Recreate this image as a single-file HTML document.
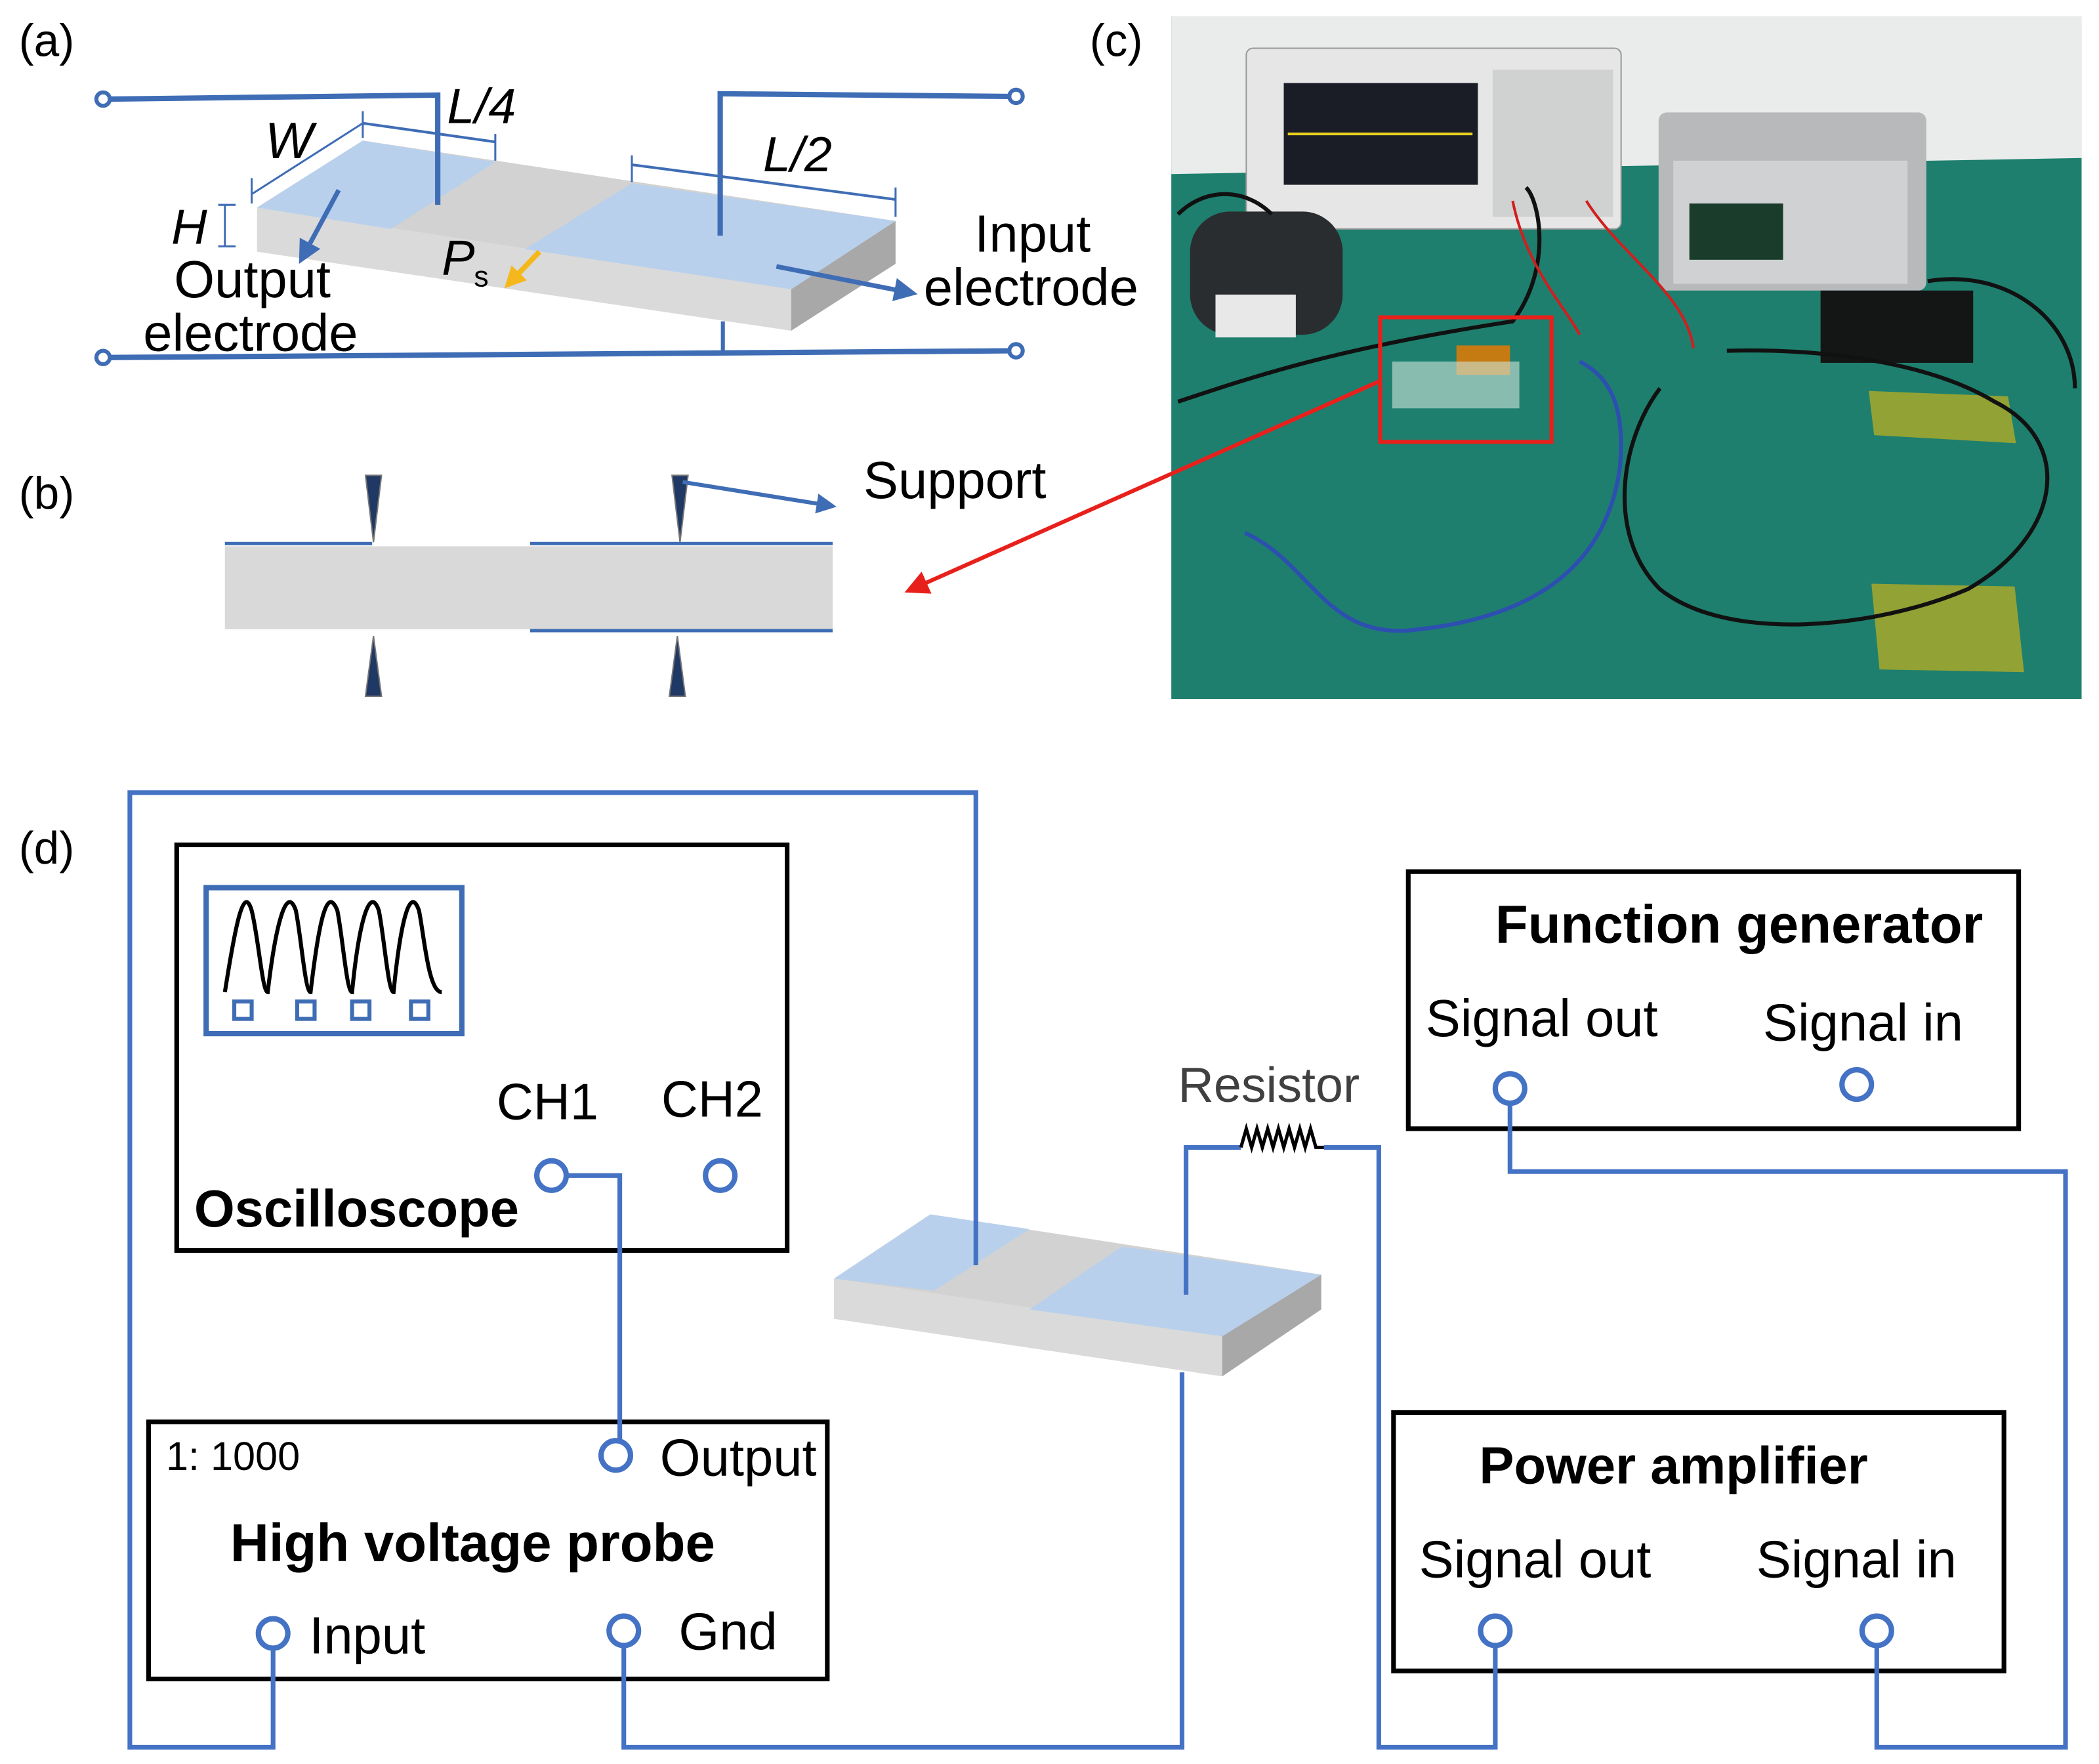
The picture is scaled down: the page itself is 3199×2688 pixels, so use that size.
<!DOCTYPE html>
<html><head><meta charset="utf-8"><style>
html,body{margin:0;padding:0;background:#fff}
svg{display:block}
text{font-family:"Liberation Sans",Arial,sans-serif}
</style></head><body>
<svg width="3199" height="2688" viewBox="0 0 1568 1317.5" xmlns="http://www.w3.org/2000/svg">
<defs>
<marker id="ab" viewBox="0 0 10 10" refX="8" refY="5" markerWidth="5" markerHeight="5" orient="auto"><path d="M0,0 L10,5 L0,10 z" fill="#3f6db5"/></marker>
<marker id="ar" viewBox="0 0 10 10" refX="8" refY="5" markerWidth="6" markerHeight="6" orient="auto"><path d="M0,0 L10,5 L0,10 z" fill="#e8201c"/></marker>
<marker id="ao" viewBox="0 0 10 10" refX="8" refY="5" markerWidth="4" markerHeight="4" orient="auto"><path d="M0,0 L10,5 L0,10 z" fill="#f5b81c"/></marker>
</defs>

<!-- (a) -->
<text x="14" y="42" font-size="34">(a)</text>
<polygon points="192,155 591,216 591,247 192,188" fill="#dadada"/>
<polygon points="591,216 669,165 669,197 591,247" fill="#a8a8a8"/>
<polygon points="192,155 271,105 669,165 591,216" fill="#d2d2d2"/>
<polygon points="192,155 271,105 370,121 292,171" fill="#b8d0ec"/>
<polygon points="392,186 472,137 669,165 591,216" fill="#b8d0ec"/>
<g stroke="#3f6db5" fill="none">
<polyline points="82,74 327,71 327,153" stroke-width="4"/>
<circle cx="77" cy="74" r="5" stroke-width="3" fill="#fff"/>
<polyline points="538,176 538,70 754,72" stroke-width="4"/>
<circle cx="759" cy="72" r="5" stroke-width="3" fill="#fff"/>
<line x1="82" y1="267" x2="754" y2="262" stroke-width="4"/>
<circle cx="77" cy="267" r="5" stroke-width="3" fill="#fff"/>
<circle cx="759" cy="262" r="5" stroke-width="3" fill="#fff"/>
<line x1="540" y1="240" x2="540" y2="263" stroke-width="3"/>
<line x1="188" y1="145" x2="271" y2="92" stroke-width="1.5"/>
<line x1="188" y1="133" x2="188" y2="152" stroke-width="1.5"/>
<line x1="271" y1="83" x2="271" y2="103" stroke-width="1.5"/>
<line x1="271" y1="92" x2="370" y2="106" stroke-width="2"/>
<line x1="370" y1="100" x2="370" y2="120" stroke-width="1.5"/>
<line x1="472" y1="123" x2="669" y2="149" stroke-width="2"/>
<line x1="472" y1="116" x2="472" y2="136" stroke-width="1.5"/>
<line x1="669" y1="140" x2="669" y2="162" stroke-width="1.5"/>
<line x1="168" y1="153" x2="168" y2="184" stroke-width="1.5"/>
<line x1="163" y1="153" x2="176" y2="153" stroke-width="1.5"/>
<line x1="163" y1="184" x2="176" y2="184" stroke-width="1.5"/>
<line x1="253" y1="142" x2="225" y2="194" stroke-width="3.5" marker-end="url(#ab)"/>
<line x1="580" y1="199" x2="682" y2="219" stroke-width="3.5" marker-end="url(#ab)"/>
</g>
<line x1="403" y1="188" x2="379" y2="213" stroke="#f5b81c" stroke-width="4" marker-end="url(#ao)"/>
<text x="198" y="118" font-size="38" font-style="italic">W</text>
<text x="334" y="92" font-size="37" font-style="italic">L/4</text>
<text x="570" y="128" font-size="37" font-style="italic">L/2</text>
<text x="128" y="182" font-size="37" font-style="italic">H</text>
<text x="330" y="205" font-size="37" font-style="italic">P</text>
<text x="354" y="214" font-size="22">s</text>
<text x="130" y="222" font-size="39">Output</text>
<text x="107" y="262" font-size="39">electrode</text>
<text x="728" y="188" font-size="39">Input</text>
<text x="690" y="228" font-size="39">electrode</text>

<!-- (b) -->
<text x="14" y="380" font-size="34">(b)</text>
<rect x="168" y="408" width="454" height="62" fill="#d9d9d9"/>
<g stroke="#3f6db5" stroke-width="2.5">
<line x1="168" y1="406" x2="278" y2="406"/>
<line x1="396" y1="406" x2="622" y2="406"/>
<line x1="396" y1="471" x2="622" y2="471"/>
</g>
<g fill="#1f3864" stroke="#777" stroke-width="1">
<polygon points="273,355 285,355 279,405"/>
<polygon points="279,475 273,520 285,520"/>
<polygon points="502,355 514,355 508,405"/>
<polygon points="506,475 500,520 512,520"/>
</g>
<line x1="510" y1="360" x2="622" y2="378" stroke="#3f6db5" stroke-width="3" marker-end="url(#ab)"/>
<text x="645" y="372" font-size="39">Support</text>

<!-- (c) photo -->
<text x="814" y="42" font-size="34">(c)</text>
<rect x="875" y="12" width="680" height="510" fill="#1e7f6e"/>
<polygon points="875,12 1555,12 1555,118 875,130" fill="#e9eceb"/>
<rect x="931" y="36" width="280" height="135" rx="5" fill="#e6e6e6" stroke="#999"/>
<rect x="959" y="62" width="145" height="76" fill="#1a1d26"/>
<line x1="962" y1="100" x2="1100" y2="100" stroke="#e8d020" stroke-width="2"/>
<rect x="1115" y="52" width="90" height="110" fill="#d0d2d2"/>
<rect x="1239" y="84" width="200" height="133" rx="6" fill="#b7b9ba"/>
<rect x="1250" y="120" width="175" height="92" fill="#cfd1d2"/>
<rect x="1262" y="152" width="70" height="42" fill="#1a3c2a"/>
<rect x="889" y="158" width="114" height="92" rx="30" fill="#2a2d2f"/>
<rect x="908" y="220" width="60" height="32" fill="#e8e8e8"/>
<rect x="1360" y="217" width="114" height="54" fill="#141515"/>
<polygon points="1396,292 1500,296 1506,331 1400,325" fill="#a8a82a" opacity="0.85"/>
<polygon points="1398,436 1505,438 1512,502 1404,500" fill="#a8a82a" opacity="0.85"/>
<g fill="none" stroke-width="3">
<path d="M930,398 C980,420 990,480 1060,470 C1150,460 1200,420 1210,350 C1215,300 1200,280 1180,270" stroke="#2d4fb0"/>
<path d="M1240,290 C1210,330 1200,400 1240,440 C1290,480 1400,470 1470,440 C1540,400 1550,330 1490,300 C1440,270 1360,260 1290,262" stroke="#111"/>
<path d="M880,300 C940,280 1000,260 1130,240 C1160,200 1150,150 1140,140" stroke="#111"/>
<path d="M1130,150 C1140,200 1170,230 1180,250 M1185,150 C1210,190 1260,220 1265,260" stroke="#d21e1e" stroke-width="2"/>
<path d="M880,160 C900,140 930,140 950,160 M1440,210 C1500,200 1550,240 1550,290" stroke="#111"/>
</g>
<rect x="1088" y="258" width="40" height="22" fill="#c57a12"/>
<rect x="1040" y="270" width="95" height="35" fill="#cfe4d8" opacity="0.6"/>
<rect x="1031" y="237" width="128" height="93" fill="none" stroke="#e8201c" stroke-width="3"/>
<line x1="1030" y1="285" x2="679" y2="441" stroke="#e8201c" stroke-width="3" marker-end="url(#ar)"/>

<!-- (d) -->
<text x="14" y="645" font-size="34">(d)</text>
<polygon points="623,955 913,998 913,1028 623,985" fill="#dadada"/>
<polygon points="913,998 987,952 987,978 913,1028" fill="#a8a8a8"/>
<polygon points="623,955 695,907 987,952 913,998" fill="#d2d2d2"/>
<polygon points="623,955 695,907 769,918 698,964" fill="#b8d0ec"/>
<polygon points="769,978 838,931 987,952 913,998" fill="#b8d0ec"/>

<g fill="none" stroke="#000" stroke-width="3.5">
<rect x="132" y="631" width="456" height="303"/>
<rect x="111" y="1062" width="507" height="192"/>
<rect x="1052" y="651" width="456" height="192"/>
<rect x="1041" y="1055" width="456" height="193"/>
</g>
<rect x="154" y="663" width="191" height="109" fill="none" stroke="#3f6db5" stroke-width="4"/>
<path d="M168,741 C176,690 182,660 188,680 C193,700 196,741 200,741 C206,690 214,660 221,680 C225,700 228,741 232,741 C238,690 244,660 252,680 C256,700 259,741 263,741 C268,690 276,660 283,680 C287,700 290,741 294,741 C299,690 306,660 313,680 C317,700 320,741 330,741" fill="none" stroke="#000" stroke-width="3"/>
<g fill="none" stroke="#3f6db5" stroke-width="3">
<rect x="175" y="748" width="13" height="13"/>
<rect x="222" y="748" width="13" height="13"/>
<rect x="263" y="748" width="13" height="13"/>
<rect x="307" y="748" width="13" height="13"/>
</g>
<text x="371" y="836" font-size="38">CH1</text>
<text x="494" y="834" font-size="38">CH2</text>
<text x="145" y="916" font-size="39" font-weight="bold">Oscilloscope</text>
<text x="124" y="1098" font-size="30">1:  1000</text>
<text x="493" y="1102" font-size="39">Output</text>
<text x="172" y="1166" font-size="40" font-weight="bold">High voltage probe</text>
<text x="231" y="1235" font-size="39">Input</text>
<text x="507" y="1232" font-size="39">Gnd</text>
<text x="1117" y="704" font-size="40" font-weight="bold">Function generator</text>
<text x="1065" y="774" font-size="39">Signal out</text>
<text x="1317" y="777" font-size="39">Signal in</text>
<text x="1105" y="1108" font-size="39" font-weight="bold">Power amplifier</text>
<text x="1060" y="1178" font-size="39">Signal out</text>
<text x="1312" y="1178" font-size="39">Signal in</text>
<text x="880" y="823" font-size="37" fill="#404040">Resistor</text>

<g fill="none" stroke="#4472c4" stroke-width="3.5">
<polyline points="729,945 729,592 97,592 97,1305 204,1305 204,1232"/>
<polyline points="424,878 463,878 463,1075"/>
<polyline points="466,1230 466,1305 883,1305 883,1025"/>
<polyline points="886,967 886,857 927,857"/>
<polyline points="989,857 1030,857 1030,1305 1117,1305 1117,1230"/>
<polyline points="1402,1230 1402,1305 1543,1305 1543,875 1128,875 1128,825"/>
</g>
<path d="M927,857 L931,843 L935,857 L939,843 L943,857 L947,843 L951,857 L955,843 L959,857 L963,843 L967,857 L971,843 L975,857 L979,843 L983,857 L989,857" fill="none" stroke="#000" stroke-width="2.5"/>
<g fill="#fff" stroke="#4472c4" stroke-width="4">
<circle cx="412" cy="878" r="11"/>
<circle cx="538" cy="878" r="11"/>
<circle cx="460" cy="1087" r="11"/>
<circle cx="204" cy="1220" r="11"/>
<circle cx="466" cy="1218" r="11"/>
<circle cx="1128" cy="813" r="11"/>
<circle cx="1387" cy="810" r="11"/>
<circle cx="1117" cy="1218" r="11"/>
<circle cx="1402" cy="1218" r="11"/>
</g>
</svg>
</body></html>
